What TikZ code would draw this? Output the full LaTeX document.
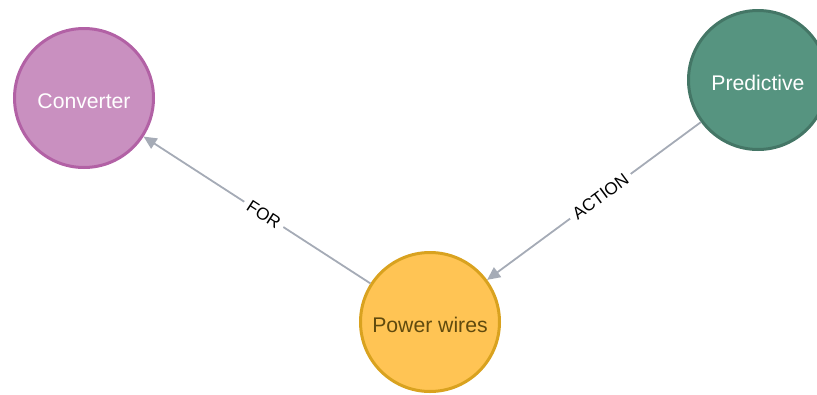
\documentclass[tikz,border=0pt]{standalone}
\usepackage{fontspec}
\setmainfont{Liberation Sans}
\usetikzlibrary{arrows.meta}
\definecolor{convfill}{HTML}{C990C0}
\definecolor{convdraw}{HTML}{B261A5}
\definecolor{powfill}{HTML}{FFC454}
\definecolor{powdraw}{HTML}{D9A21F}
\definecolor{powtext}{HTML}{604A0E}
\definecolor{predfill}{HTML}{569480}
\definecolor{preddraw}{HTML}{447666}
\definecolor{edgecol}{HTML}{A5ABB6}
\begin{document}
\begin{tikzpicture}[x=1pt,y=-1pt,
  entity/.style={circle,line width=3pt,minimum size=139pt,inner sep=0pt},
  entitytext/.style={inner sep=0pt,font=\fontsize{21.2}{24}\selectfont},
  rel/.style={draw=edgecol,line width=1.8pt,-{Triangle[length=13pt,width=12pt]}},
  rellabel/.style={sloped,pos=0.47,fill=white,inner xsep=5pt,inner ysep=3pt,font=\fontsize{17.2}{20}\selectfont,text=black}]
\useasboundingbox (0,0) rectangle (817,394);
\node[entity,fill=convfill,draw=convdraw] (conv) at (84,98) {};
\node[entity,fill=predfill,draw=preddraw] (pred) at (758,80) {};
\node[entity,fill=powfill,draw=powdraw] (pow) at (430,322) {};
\node[entitytext,text=white] (convt) at (84,101) {Converter};
\node[entitytext,text=white] (predt) at (758,83) {Predictive};
\node[entitytext,text=powtext] (powt) at (430,325) {Power wires};
\draw[rel] (pow) -- node[rellabel] {FOR} (conv);
\draw[rel] (pred) -- node[rellabel] {ACTION} (pow);
\end{tikzpicture}
\end{document}
